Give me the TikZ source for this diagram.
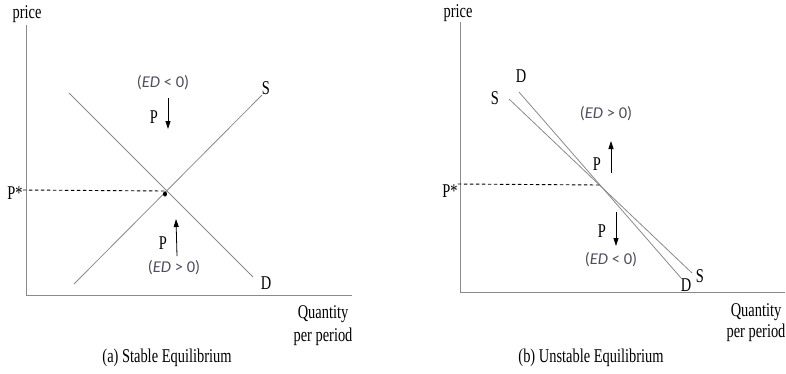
\documentclass[tikz,border=0pt]{standalone}
\usepackage{fontspec}
\setmainfont{Liberation Serif}[FakeStretch=0.74]
\newfontfamily\edfont{Carlito}
\usetikzlibrary{arrows.meta}
\definecolor{curve}{HTML}{8A8A8A}
\definecolor{edcol}{HTML}{4E4E5E}
\tikzset{
  lbl/.style={font=\fontsize{19.5}{21}\selectfont, inner sep=0pt},
  edlbl/.style={font=\edfont\fontsize{16.5}{18}\selectfont, text=edcol, inner sep=0pt},
  axis/.style={draw=curve, line width=0.9pt},
  curveline/.style={draw=curve, line width=0.8pt},
  guide/.style={draw=black, line width=0.9pt, dash pattern=on 3.5pt off 2.5pt},
  parrow/.style={draw=black, line width=0.8pt, -{Triangle[length=8pt,width=5pt]}},
}
\newcommand{\edtext}[2]{(\textit{ED}\ #1\ #2)}
\begin{document}
\begin{tikzpicture}[x=1pt,y=-1pt]
\useasboundingbox (0,0) rectangle (786,373);
% ---------- (a) stable ----------
\coordinate (ay) at (26,25);
\coordinate (ao) at (26,295);
\coordinate (ax) at (352,295);
\draw[axis] (ay) -- (ao) -- (ax);
\node[lbl] (aprice) at (27,14) {price};
\coordinate (aS1) at (74,284);
\coordinate (aS2) at (262,95);
\coordinate (aD1) at (69,93);
\coordinate (aD2) at (253,277);
\draw[curveline] (aS1) -- (aS2);
\draw[curveline] (aD1) -- (aD2);
\node[lbl] (aSl) at (266,88) {S};
\node[lbl] (aDl) at (266,283) {D};
\coordinate (aE) at (165,191);
\fill (165,194) ellipse (2pt and 2.6pt);
\node[lbl] (aPs) at (15,193) {P*};
\draw[guide] (aPs.east) ++(0,-3) -- (aE);
\node[edlbl] (aed1) at (163,83) {\edtext{<}{0}};
\node[lbl] (aP1) at (154,117) {P};
\coordinate (aa1) at (168,98);
\coordinate (aa2) at (168,129);
\draw[parrow] (aa1) -- (aa2);
\node[lbl] (aP2) at (163,243) {P};
\coordinate (ab1) at (177,256);
\coordinate (ab2) at (176,219);
\draw[parrow] (ab1) -- (ab2);
\node[edlbl] (aed2) at (174,268) {\edtext{>}{0}};
\node[lbl] (aq) at (323,314) {Quantity};
\node[lbl] (app) at (323,337) {per period};
\node[lbl] (acap) at (167,358) {(a) Stable Equilibrium};
% ---------- (b) unstable ----------
\coordinate (by) at (460,22);
\coordinate (bo) at (460,292);
\coordinate (bx) at (785,292);
\draw[axis] (by) -- (bo) -- (bx);
\node[lbl] (bprice) at (458,13) {price};
\coordinate (bD1) at (519,92);
\coordinate (bD2) at (681,278);
\coordinate (bS1) at (509,99);
\coordinate (bS2) at (692,273);
\draw[curveline] (bD1) -- (bD2);
\draw[curveline] (bS1) -- (bS2);
\node[lbl] (bDt) at (521,76) {D};
\node[lbl] (bDb) at (686,285) {D};
\node[lbl] (bSt) at (495,98) {S};
\node[lbl] (bSb) at (700,276) {S};
\coordinate (bE) at (600,185);
\node[lbl] (bPs) at (450,191) {P*};
\draw[guide] (bPs.east) ++(0,-7) -- (bE);
\node[edlbl] (bed1) at (606,114) {\edtext{>}{0}};
\node[lbl] (bP1) at (597,164) {P};
\coordinate (ba1) at (611,173);
\coordinate (ba2) at (611,141);
\draw[parrow] (ba1) -- (ba2);
\node[lbl] (bP2) at (602,231) {P};
\coordinate (bb1) at (616,212);
\coordinate (bb2) at (616,246);
\draw[parrow] (bb1) -- (bb2);
\node[edlbl] (bed2) at (611,260) {\edtext{<}{0}};
\node[lbl] (bq) at (756,312) {Quantity};
\node[lbl] (bpp) at (756,333) {per period};
\node[lbl] (bcap) at (591,358) {(b) Unstable Equilibrium};
\end{tikzpicture}
\end{document}
